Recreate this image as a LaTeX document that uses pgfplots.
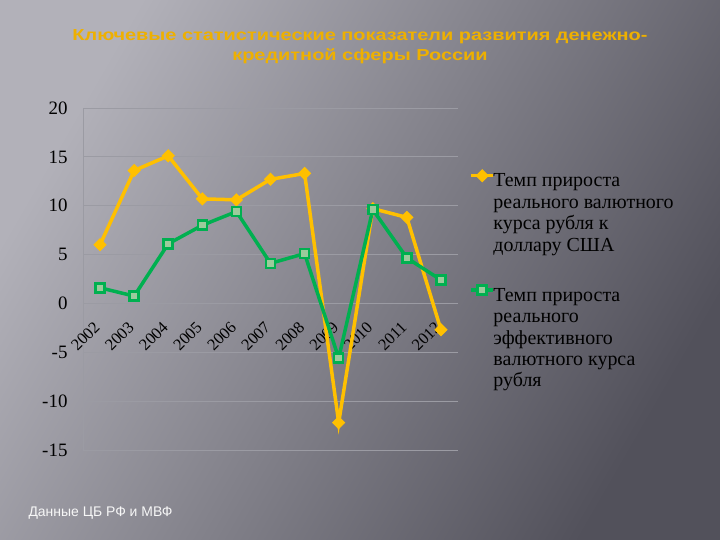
\documentclass[border=0pt]{standalone}
\usepackage{fontspec}
\setmainfont{Liberation Serif}
\newfontfamily\sansf{Liberation Sans}
\usepackage{pgfplots}
\pgfplotsset{compat=1.18}

\definecolor{bgl}{HTML}{B2B1B9}
\definecolor{bgd}{HTML}{52515B}
\definecolor{gold}{HTML}{FFC000}
\definecolor{titlegold}{HTML}{EEB000}
\definecolor{grn}{HTML}{00B050}
\definecolor{grnfill}{HTML}{9CCB9C}
\definecolor{gridc}{HTML}{9B9BA3}

\begin{document}
\begin{tikzpicture}[x=1bp,y=1bp]
% slide background
\shade[shading=axis, top color=bgl, bottom color=bgd, shading angle=60] (0,0) rectangle (720,540);
\path[use as bounding box] (0,0) rectangle (720,540);

\node[font=\sansf\bfseries\fontsize{16}{20}\selectfont, text=titlegold, align=center]
  at (360,493) {\scalebox{1.25}[1]{Ключевые статистические показатели развития денежно-}\\
                \scalebox{1.25}[1]{кредитной сферы России}};
\node[anchor=west, font=\sansf\fontsize{14}{16}\selectfont, text=white!94!gray]
  at (25,27) {Данные ЦБ РФ и МВФ};

\begin{axis}[
  at={(83bp,90bp)}, anchor=south west,
  scale only axis, width=375bp, height=342bp,
  xmin=-0.5, xmax=10.5,
  ymin=-15, ymax=20,
  clip=false,
  ytick={-15,-10,...,20},
  xtick=\empty,
  axis x line*=middle, axis y line*=left,
  hide obscured x ticks=false, hide obscured y ticks=false,
  axis line style={gridc, line width=0.8bp},
  ymajorgrids, grid style={gridc, line width=0.8bp},
  major tick length=0pt,
  tick label style={font=\fontsize{19}{22}\selectfont, text=black},
  /pgf/number format/assume math mode=true,
  yticklabel style={xshift=-12bp},
  legend style={at={(1.03,0.82)}, anchor=north west, draw=none, fill=none,
    inner sep=0pt, font=\fontsize{20}{21.5}\selectfont, row sep=95bp,
    nodes={inner xsep=1.5bp}, cells={anchor=west}},
  legend image code/.code={\draw[mark repeat=2,mark phase=2,yshift=5.5bp]
    plot coordinates {(0bp,0bp) (11bp,0bp) (22bp,0bp)};},
]
% year labels first, so that the lines pass over them
\pgfplotsinvokeforeach{0,...,10}{
  \node[xshift=-7bp, yshift=-17bp, rotate=45, anchor=north east, inner sep=0pt,
    font=\fontsize{16.5}{18}\selectfont, text=black]
    at (axis cs:#1,0) {\pgfmathparse{int(2002+#1)}\pgfmathresult};
}
\addplot[gold, line width=3.5bp, mark=square*, mark size=4.2bp,
  mark options={rotate=45, fill=gold, draw=gold, line width=1bp}]
  coordinates {(0,6.0) (1,13.6) (2,15.1) (3,10.7) (4,10.6) (5,12.7) (6,13.3)
               (7,-12.2) (8,9.7) (9,8.8) (10,-2.7)};
\addlegendentry{\hspace*{-3bp}\parbox[t]{200bp}{Темп прироста\\реального валютного\\курса рубля к\\доллару США}}

\addplot[grn, line width=3.5bp, mark=square*, mark size=4.5bp,
  mark options={fill=grnfill, draw=grn, line width=2.5bp}]
  coordinates {(0,1.6) (1,0.75) (2,6.1) (3,8.0) (4,9.4) (5,4.1) (6,5.1)
               (7,-5.6) (8,9.6) (9,4.65) (10,2.4)};
\addlegendentry{\hspace*{-3bp}\parbox[t]{200bp}{Темп прироста\\реального\\эффективного\\валютного курса\\рубля}}
\end{axis}
\end{tikzpicture}
\end{document}
